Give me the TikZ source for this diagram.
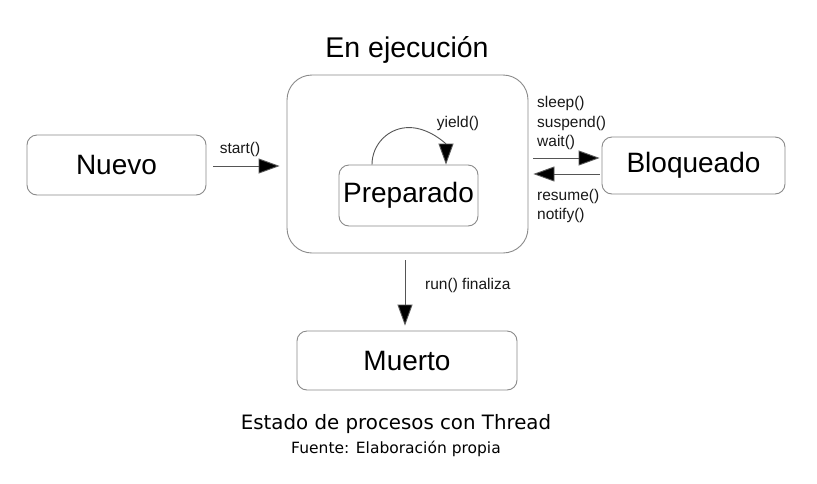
\documentclass[tikz,border=0pt]{standalone}
\usepackage{fontspec}
\setmainfont{Liberation Sans}
\newfontfamily\capfont{DejaVu Sans}
\usetikzlibrary{arrows.meta}
\definecolor{boxgray}{HTML}{8A8A8A}
\definecolor{linegray}{HTML}{555555}
\tikzset{
  statebox/.style={draw=boxgray, line width=0.9pt, rounded corners=10pt, inner sep=0pt,
    font=\fontsize{28}{31}\selectfont, text=black},
  conn/.style={draw=linegray, line width=0.9pt, -{Triangle[length=21pt,width=15pt,fill=black]}},
  lbl/.style={font=\fontsize{15.5}{19}\selectfont, text=black!90, inner sep=0pt},
}
\begin{document}
\begin{tikzpicture}[x=1pt,y=1pt]
\useasboundingbox[fill=white] (0,0) rectangle (817,-483);
\node[statebox, minimum width=179pt, minimum height=60pt] (nuevo) at (116.5,-165) {Nuevo};
\node[statebox, rounded corners=25pt, minimum width=241pt, minimum height=178pt] (ejec) at (407.5,-164) {};
\node[font=\fontsize{28.5}{31}\selectfont, inner sep=0pt] (title) at (407,-50) {En ejecución};
\node[statebox, minimum width=139pt, minimum height=61pt] (prep) at (408.5,-195.5) {Preparado};
\node[statebox, minimum width=183pt, minimum height=57pt] (bloq) at (693.5,-165.5) {Bloqueado};
\node[statebox, minimum width=220pt, minimum height=59pt] (muerto) at (407,-360.5) {Muerto};

% start()
\draw[conn] ([xshift=7pt,yshift=-1pt]nuevo.east) -- ([xshift=-7pt,yshift=-2pt]ejec.west);
\node[lbl] (lstart) at (240,-149) {start()};

% yield loop
\draw[conn] ([xshift=-36.5pt]prep.north) arc[start angle=180,end angle=0,radius=37pt];
\node[lbl] (lyield) at (458,-123) {yield()};

% to Bloqueado
\draw[conn] ([xshift=5pt,yshift=6pt]ejec.east) -- ([xshift=-2pt,yshift=7.5pt]bloq.west);
\draw[conn] ([xshift=-2pt,yshift=-8.5pt]bloq.west) -- ([xshift=5pt,yshift=-10pt]ejec.east);
\node[lbl, anchor=west] (lsleep) at (537,-103) {sleep()};
\node[lbl, anchor=west] (lsusp) at (537,-123) {suspend()};
\node[lbl, anchor=west] (lwait) at (537,-142) {wait()};
\node[lbl, anchor=west] (lres) at (537,-196) {resume()};
\node[lbl, anchor=west] (lnot) at (537,-215) {notify()};

% run() finaliza
\draw[conn] ([xshift=-2.5pt,yshift=-7pt]ejec.south) -- ([xshift=-2pt,yshift=5pt]muerto.north);
\node[lbl, anchor=west] (lrun) at (425,-285) {run() finaliza};

% caption
\node[font=\capfont\fontsize{19.8}{23}\selectfont, inner sep=0pt] (cap) at (396,-424) {Estado de procesos con Thread};
\node[font=\capfont\fontsize{15.5}{18}\selectfont, inner sep=0pt] (src) at (396,-449) {Fuente: Elaboración propia};
\end{tikzpicture}
\end{document}
